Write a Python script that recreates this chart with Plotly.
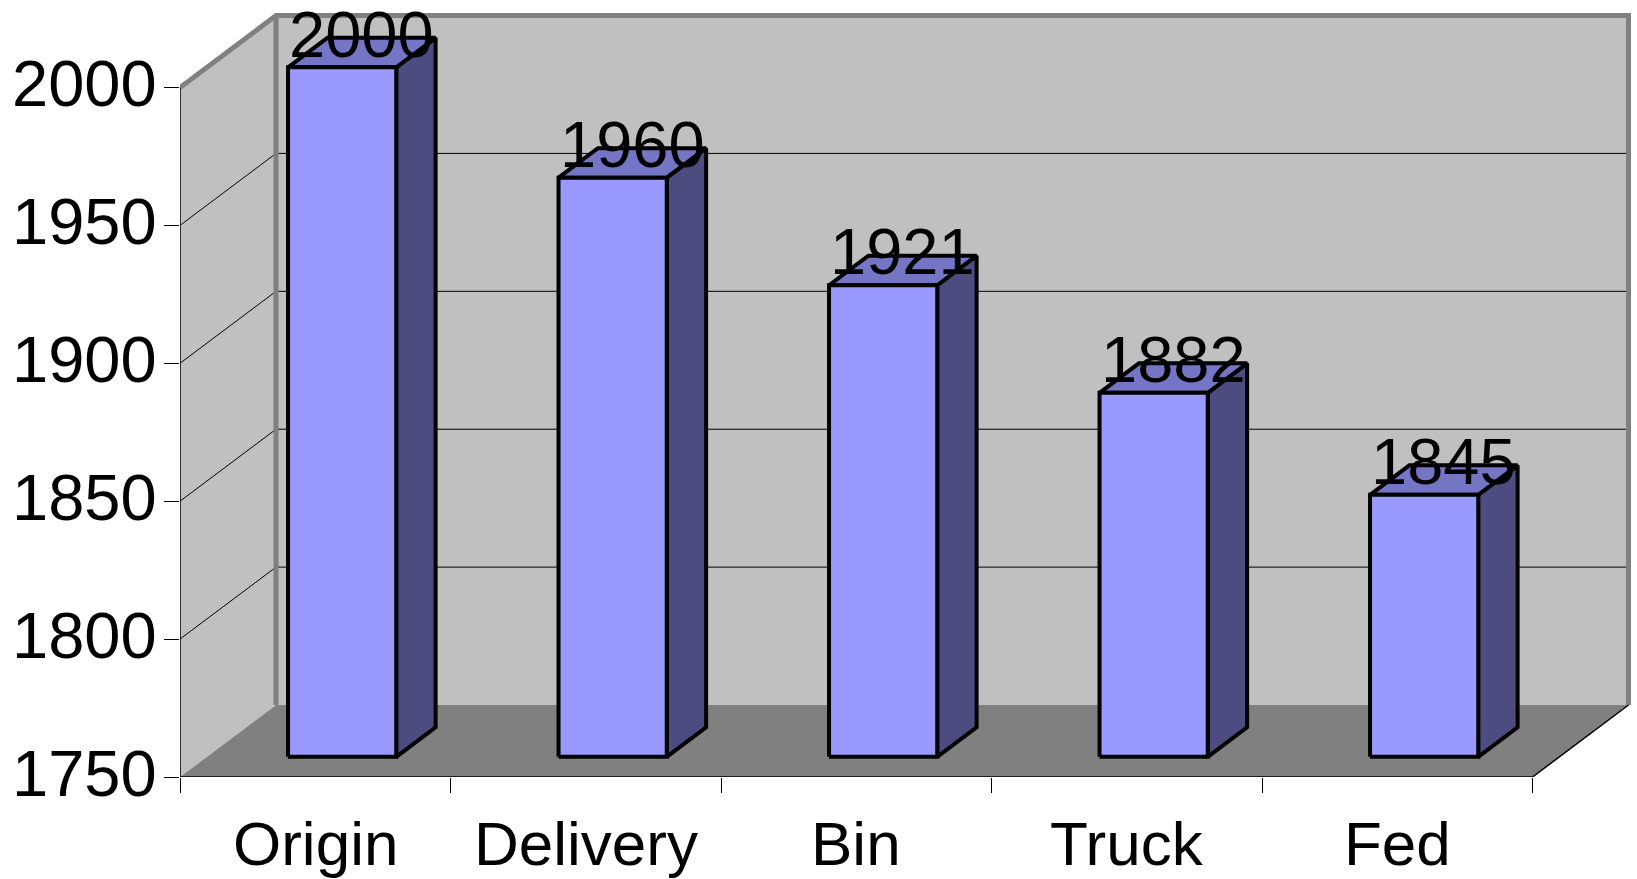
import plotly.graph_objects as go

# ---- data ----
categories = ["Origin", "Delivery", "Bin", "Truck", "Fed"]
values = [2000, 1960, 1921, 1882, 1845]
y_ticks = [1750, 1800, 1850, 1900, 1950, 2000]
y_min, y_max = 1750, 2000

# ---- 3D projection parameters (in axis units) ----
DX = 0.355      # depth offset along x (category units)
DY = 26.1       # depth offset along y (value units)
F0, F1 = 0.28, 0.69   # bar front/back depth fraction
BAR_W = 0.40

FONT = "Liberation Sans, Arial, sans-serif"
FS_CAT = 62
FS_NUM = 65
n = len(categories)

fig = go.Figure()

def poly(xs, ys, fill, line_color=None, line_width=0):
    fig.add_trace(go.Scatter(
        x=xs, y=ys, mode="lines", fill="toself", fillcolor=fill,
        line=dict(color=line_color or fill, width=line_width),
        hoverinfo="skip", showlegend=False))

def line(xs, ys, color, width):
    fig.add_trace(go.Scatter(
        x=xs, y=ys, mode="lines", line=dict(color=color, width=width),
        hoverinfo="skip", showlegend=False))

# walls and floor
poly([0, 0, DX, DX, 0], [y_min, y_max, y_max + DY, y_min + DY, y_min], "#C0C0C0")
poly([DX, DX, n + DX, n + DX, DX], [y_min + DY, y_max + DY, y_max + DY, y_min + DY, y_min + DY], "#C0C0C0")
poly([0, n, n + DX, DX, 0], [y_min, y_min, y_min + DY, y_min + DY, y_min], "#808080")

# gridlines
gx, gy = [], []
for t in y_ticks[1:-1]:
    gx += [0, DX, n + DX, None]
    gy += [t, t + DY, t + DY, None]
line(gx, gy, "#000000", 1)

# wall outlines
line([0, DX, n + DX, n + DX], [y_max, y_max + DY, y_max + DY, y_min + DY], "#808080", 5)
line([DX, DX], [y_min + DY, y_max + DY], "#808080", 5)

# axis edges
line([0, 0], [y_min, y_max], "#000000", 1.5)
line([0, n, n + DX], [y_min, y_min, y_min + DY], "#000000", 1.5)

# bars
bdx, bdy = (F1 - F0) * DX, (F1 - F0) * DY
fx, fy, tx, ty, sx, sy = [], [], [], [], [], []
for i, v in enumerate(values):
    cx = i + 0.5
    xl = cx - BAR_W / 2 + F0 * DX
    xr = cx + BAR_W / 2 + F0 * DX
    y0 = y_min + F0 * DY
    y1 = v + F0 * DY
    sx += [xr, xr + bdx, xr + bdx, xr, xr, None]
    sy += [y0, y0 + bdy, y1 + bdy, y1, y0, None]
    tx += [xl, xr, xr + bdx, xl + bdx, xl, None]
    ty += [y1, y1, y1 + bdy, y1 + bdy, y1, None]
    fx += [xl, xr, xr, xl, xl, None]
    fy += [y0, y0, y1, y1, y0, None]
poly(sx, sy, "#4C4C80", "#000000", 4)
poly(tx, ty, "#7575C6", "#000000", 4)
poly(fx, fy, "#9999FF", "#000000", 4)

annotations = []
mid = (F0 + F1) / 2
for i, v in enumerate(values):
    annotations.append(dict(
        x=i + 0.5 + mid * DX, y=v + mid * DY, xref="x", yref="y",
        text=str(v), showarrow=False, yanchor="bottom", xanchor="center",
        yshift=-20, font=dict(family=FONT, size=FS_NUM, color="#000000")))
for i, c in enumerate(categories):
    annotations.append(dict(
        x=i + 0.5, y=0, xref="x", yref="paper", text=c, showarrow=False,
        yanchor="top", xanchor="center", yshift=-30,
        font=dict(family=FONT, size=FS_CAT, color="#000000")))
for t in y_ticks:
    annotations.append(dict(
        x=0, y=t, xref="paper", yref="y", text=str(t), showarrow=False,
        xanchor="right", yanchor="middle", xshift=-21, yshift=4,
        font=dict(family=FONT, size=FS_NUM, color="#000000")))

W, H = 1637, 879
ml, mr, mt, mb = 180, 3, 9, 102
px_x = 270.5
px_y = 2.758
x_hi = (W - ml - mr) / px_x
y_hi = y_min + (H - mt - mb) / px_y

fig.update_layout(
    width=W, height=H,
    margin=dict(l=ml, r=mr, t=mt, b=mb, pad=0),
    paper_bgcolor="#FFFFFF", plot_bgcolor="#FFFFFF",
    showlegend=False,
    annotations=annotations,
    xaxis=dict(range=[0, x_hi], tickmode="array", tickvals=list(range(n + 1)),
               ticktext=[""] * (n + 1), ticks="outside", ticklen=15,
               tickcolor="#000000", tickwidth=1, showgrid=False, zeroline=False,
               showline=False, fixedrange=True),
    yaxis=dict(range=[y_min, y_hi], tickmode="array", tickvals=y_ticks,
               ticktext=[""] * len(y_ticks), ticks="outside", ticklen=15,
               tickcolor="#000000", tickwidth=1, showgrid=False, zeroline=False,
               showline=False, fixedrange=True),
)

fig.write_html("out.html", config={"displayModeBar": False},
               post_script="document.body.style.margin='0';document.body.style.overflow='hidden';")
